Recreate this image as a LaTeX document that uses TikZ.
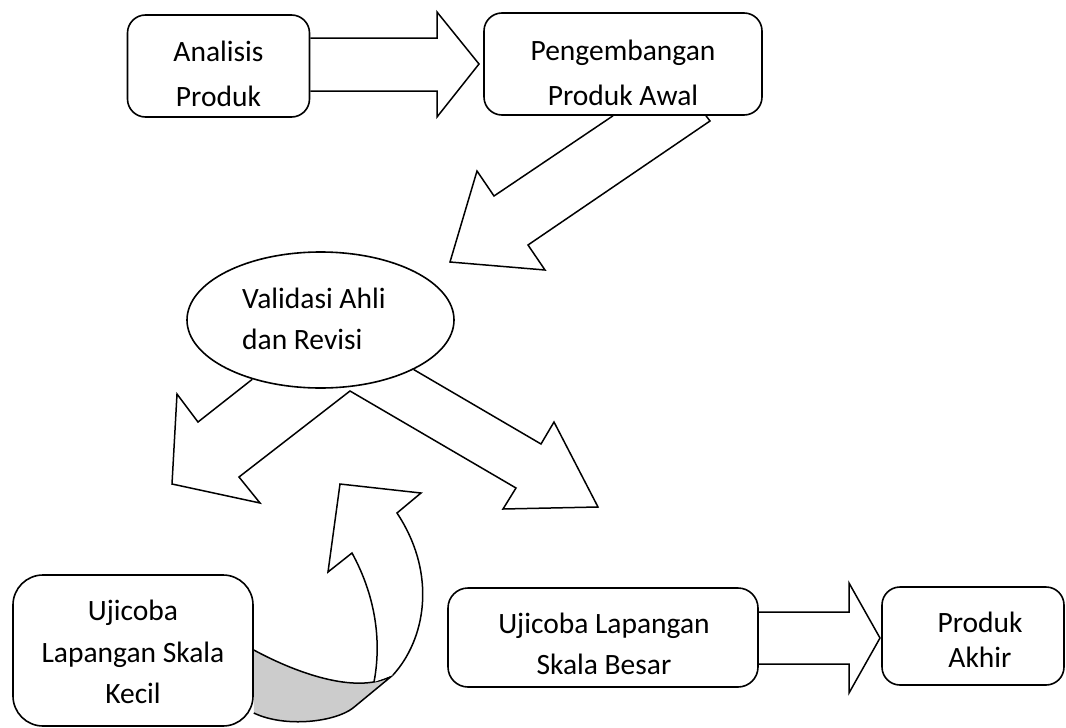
\documentclass[tikz,border=0pt]{standalone}
\usepackage{fontspec}
\setmainfont{Carlito}
\usetikzlibrary{shapes.geometric,backgrounds}
\newcommand\ctrstack[1]{\vtop{\halign{\hfil##\hfil\cr#1\crcr}}}
\newcommand\lftstack[1]{\vtop{\halign{##\hfil\cr#1\crcr}}}
\definecolor{shade}{gray}{0.8}
\begin{document}
\begin{tikzpicture}[x=1pt,y=-1pt,line join=miter,
  box/.style={draw,line width=1.6pt,fill=white,inner sep=0pt},
  blk/.style={draw,line width=1.5pt},
  lbl/.style={inner sep=0pt},
  fnt/.style={font=\fontsize{29.5}{#1}\selectfont}]
\useasboundingbox (0,0) rectangle (1066,728);

% boxes
\node[box,rounded corners=18pt,minimum width=182pt,minimum height=102pt] (a) at (218.5,66) {};
\node[box,rounded corners=18pt,minimum width=278pt,minimum height=102pt] (b) at (623,64) {};
\node[box,ellipse,minimum width=267pt,minimum height=136pt] (c) at (320.5,320) {};
\node[box,rounded corners=30pt,minimum width=240pt,minimum height=151pt] (d) at (133,650.5) {};
\node[box,rounded corners=20pt,minimum width=310pt,minimum height=99pt] (e) at (603,637.5) {};
\node[box,rounded corners=18pt,minimum width=182pt,minimum height=98pt] (f) at (973,636) {};

% labels
\node[lbl,fnt=45,anchor=base] (ta) at (218.5,61.5) {\ctrstack{Analisis\cr Produk}};
\node[lbl,fnt=45,anchor=base] (tb) at (623,60.5) {\ctrstack{Pengembangan\cr Produk Awal}};
\node[lbl,fnt=41,anchor=base west] (tc) at (242,308.5) {\lftstack{Validasi Ahli\cr dan Revisi}};
\node[lbl,fnt=41.5,anchor=base] (td) at (133,620.7) {\ctrstack{Ujicoba\cr Lapangan Skala\cr Kecil}};
\node[lbl,fnt=41.5,anchor=base] (te) at (604,633) {\ctrstack{Ujicoba Lapangan\cr Skala Besar}};
\node[lbl,fnt=35.5,anchor=base] (tf) at (980,632) {\ctrstack{Produk\cr Akhir}};

\begin{scope}[on background layer]
% Analisis -> Pengembangan
\draw[blk] (a.east |- 0,38) -- (437,38) -- (437,12) -- (479,64) -- (437,117) -- (437,91) -- (a.east |- 0,91);
% Pengembangan -> Validasi
\draw[blk] (613,0 |- b.south) -- (494,196) -- (477,171) -- (450,262) -- (545,270) -- (528,245) -- (710,121) -- (706,0 |- b.south);
% Validasi -> two arrows
\draw[blk] (c.221) -- (198,422) -- (177,394) -- (172,484) -- (260,503) -- (239,477) -- (350,391)
  -- (516,488) -- (503,509) -- (598,507) -- (554,422) -- (541,444) -- (c.332);
% Ujicoba Besar -> Produk Akhir
\draw[blk] (e.east |- 0,612) -- (849,612) -- (849,583) -- (880,638) -- (849,693) -- (849,664) -- (e.east |- 0,664);
% curved arrow from Ujicoba Kecil
\draw[blk,fill=shade] (d.east |- 0,650) .. controls (300,675) and (360,695) .. (393,675)
  -- (353,708) .. controls (335,722) and (285,728) .. (d.east |- 0,713);
\draw[blk,fill=white] (374,682) .. controls (382,640) and (375,595) .. (352,553) -- (328,572) -- (340,484)
  -- (421,493) -- (397,513) .. controls (438,575) and (425,640) .. (393,675);
\end{scope}
\end{tikzpicture}
\end{document}
